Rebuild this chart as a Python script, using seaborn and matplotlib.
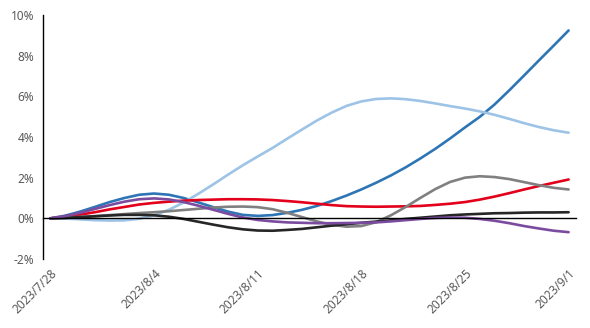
import pandas as pd
import matplotlib
matplotlib.use('Agg')
import matplotlib.pyplot as plt
import seaborn as sns

# one value per calendar day, 2023/7/28 .. 2023/9/1 (cumulative return, %)
start, end = '2023-07-28', '2023-09-01'

blue = [0, 0.13, 0.33, 0.56, 0.80, 1.00, 1.16,
        1.22, 1.16, 1.00, 0.78, 0.55, 0.33, 0.17,
        0.12, 0.16, 0.27, 0.42, 0.61, 0.85, 1.12,
        1.42, 1.75, 2.11, 2.51, 2.95, 3.42, 3.93,
        4.47, 4.99, 5.60, 6.30, 7.03, 7.77, 8.50,
        9.24]
light_blue = [0, -0.01, -0.05, -0.09, -0.11, -0.10, -0.02,
              0.15, 0.42, 0.78, 1.21, 1.67, 2.15, 2.61,
              3.04, 3.46, 3.92, 4.37, 4.81, 5.20, 5.53,
              5.75, 5.87, 5.90, 5.86, 5.77, 5.65, 5.52,
              5.40, 5.26, 5.09, 4.89, 4.68, 4.49, 4.33,
              4.21]
red = [0, 0.07, 0.18, 0.30, 0.44, 0.56, 0.68,
       0.76, 0.82, 0.87, 0.90, 0.92, 0.94, 0.94,
       0.93, 0.90, 0.85, 0.79, 0.72, 0.65, 0.60,
       0.58, 0.57, 0.58, 0.59, 0.61, 0.66, 0.72,
       0.80, 0.92, 1.07, 1.24, 1.42, 1.59, 1.75,
       1.91]
gray = [0, 0.03, 0.07, 0.11, 0.16, 0.21, 0.26,
        0.30, 0.35, 0.41, 0.47, 0.53, 0.57, 0.58,
        0.55, 0.45, 0.27, 0.06, -0.15, -0.32, -0.41,
        -0.38, -0.19, 0.15, 0.56, 1.01, 1.44, 1.79,
        2.00, 2.07, 2.03, 1.93, 1.78, 1.63, 1.50,
        1.42]
black = [0, 0.02, 0.06, 0.10, 0.14, 0.17, 0.17,
         0.15, 0.08, -0.03, -0.17, -0.31, -0.44, -0.54,
         -0.60, -0.61, -0.57, -0.52, -0.44, -0.36, -0.29,
         -0.22, -0.16, -0.10, -0.03, 0.03, 0.09, 0.15,
         0.19, 0.22, 0.25, 0.26, 0.28, 0.29, 0.29,
         0.30]
purple = [0, 0.11, 0.27, 0.46, 0.65, 0.82, 0.94,
          0.98, 0.93, 0.80, 0.62, 0.42, 0.22, 0.04,
          -0.08, -0.15, -0.20, -0.22, -0.24, -0.24, -0.23,
          -0.22, -0.20, -0.15, -0.09, -0.03, 0.02, 0.04,
          0.03, -0.03, -0.12, -0.24, -0.38, -0.50, -0.61,
          -0.68]

series = {'s1': blue, 's2': light_blue, 's3': red,
          's4': gray, 's5': black, 's6': purple}
colors = ['#2E75B6', '#9DC3E6', '#E3001B', '#808080', '#262626', '#7A4B9E']

tick_dates = ['2023-07-28', '2023-08-04', '2023-08-11',
              '2023-08-18', '2023-08-25', '2023-09-01']
tick_labels = ['2023/7/28', '2023/8/4', '2023/8/11',
               '2023/8/18', '2023/8/25', '2023/9/1']

df = pd.DataFrame(series)
df['date'] = pd.date_range(start, end, freq='D')
df = df.melt(id_vars='date', var_name='series', value_name='ret')

sns.set_style('white')
plt.rcParams['font.family'] = ['Noto Sans', 'DejaVu Sans']

fig = plt.figure(figsize=(5.9, 3.28), dpi=100)
ax = fig.add_axes([43 / 590, 69 / 328, 533 / 590, 244 / 328])

sns.lineplot(data=df, x='date', y='ret', hue='series',
             palette=colors, linewidth=1.9, legend=False, ax=ax)

half = pd.Timedelta(hours=12)
ax.set_xlim(pd.Timestamp(start) - half, pd.Timestamp(end) + half)
ax.set_ylim(-2, 10)

ax.spines['top'].set_visible(False)
ax.spines['right'].set_visible(False)
ax.spines['left'].set_color('black')
ax.spines['left'].set_linewidth(1.0)
ax.spines['bottom'].set_position(('data', 0))
ax.spines['bottom'].set_color('black')
ax.spines['bottom'].set_linewidth(1.0)

ax.tick_params(axis='x', which='major', length=0, pad=35, labelsize=8.5, labelcolor='#595959')
ax.tick_params(axis='x', which='minor', direction='in', length=3.5, width=0.8, color='black')
ax.tick_params(axis='y', length=0, pad=6.5, labelsize=8.5, labelcolor='#595959')

ax.set_yticks(range(-2, 11, 2))
ax.set_yticklabels([f'{v}%' for v in range(-2, 11, 2)])

ticks = pd.to_datetime(tick_dates)
ax.set_xticks(ticks)
ax.set_xticks(ticks - half, minor=True)
ax.set_xticklabels(tick_labels)
plt.setp(ax.get_xticklabels(), rotation=45, ha='right', va='top', rotation_mode='anchor')

ax.set_xlabel('')
ax.set_ylabel('')

fig.savefig('out.png', dpi=100)
